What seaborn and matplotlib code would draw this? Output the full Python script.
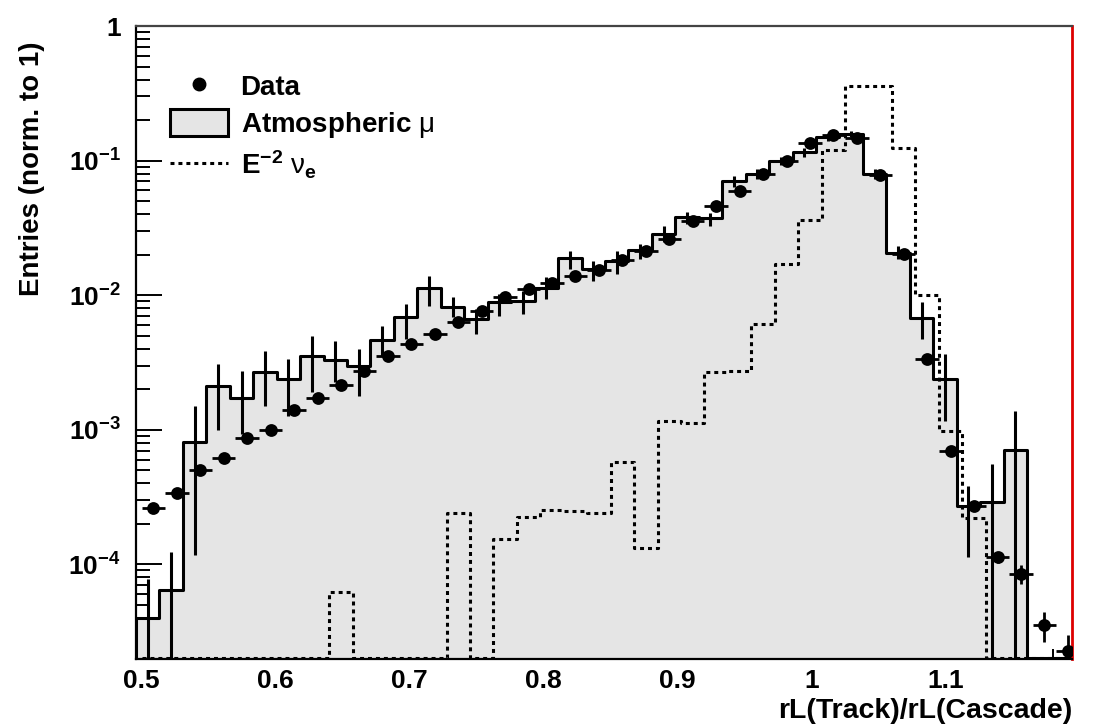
import numpy as np
import pandas as pd
import matplotlib
matplotlib.use("Agg")
import matplotlib.pyplot as plt
import seaborn as sns
from matplotlib.lines import Line2D
from matplotlib.patches import Patch
from matplotlib.ticker import FixedLocator, FixedFormatter, LogLocator, MultipleLocator, NullFormatter

# ---------------- data ----------------
bin_width = 0.0175
data_first_edge = 0.5        # data and E^-2 nu_e histograms
mc_first_edge = 0.49575      # atmospheric mu histogram
n_bins = 40

data_vals = [2.61e-4, 3.39e-4, 5.06e-4, 6.17e-4, 8.7e-4, 1.0e-3, 1.41e-3, 1.72e-3,
             2.16e-3, 2.75e-3, 3.55e-3, 4.33e-3, 5.15e-3, 6.29e-3, 7.67e-3, 9.64e-3,
             1.12e-2, 1.23e-2, 1.38e-2, 1.55e-2, 1.84e-2, 2.14e-2, 2.6e-2, 3.58e-2,
             4.63e-2, 5.97e-2, 7.95e-2, 0.100, 0.135, 0.155, 0.147, 7.8e-2,
             2.02e-2, 3.36e-3, 6.92e-4, 2.70e-4, 1.13e-4, 8.49e-5, 3.56e-5, 2.28e-5]
data_err = [1.5e-5, 1.7e-5, 2.1e-5, 2.3e-5, 2.8e-5, 3.0e-5, 3.6e-5, 4.0e-5,
            4.5e-5, 5.0e-5, 5.7e-5, 6.3e-5, 6.9e-5, 7.6e-5, 8.4e-5, 9.4e-5,
            1.0e-4, 1.1e-4, 1.15e-4, 1.2e-4, 1.35e-4, 1.45e-4, 1.6e-4, 1.9e-4,
            2.1e-4, 2.4e-4, 2.8e-4, 3.1e-4, 3.6e-4, 3.9e-4, 3.8e-4, 2.8e-4,
            1.4e-4, 5.8e-5, 2.6e-5, 1.6e-5, 1.0e-5, 1.35e-5, 0.9e-5, 0.7e-5]

mc_vals = [4.0e-5, 6.4e-5, 8.07e-4, 2.1e-3, 1.72e-3, 2.70e-3, 2.38e-3, 3.52e-3,
           3.30e-3, 3.0e-3, 4.67e-3, 6.85e-3, 1.14e-2, 8.1e-3, 6.65e-3, 8.85e-3,
           9.0e-3, 1.14e-2, 1.88e-2, 1.57e-2, 1.80e-2, 2.17e-2, 2.85e-2, 3.79e-2,
           3.75e-2, 7.1e-2, 7.95e-2, 0.100, 0.115, 0.149, 0.158, 7.95e-2,
           2.06e-2, 6.77e-3, 2.38e-3, 2.73e-4, 2.89e-4, 7.08e-4, 0.0, 0.0]
mc_err_lo = [0.0, 0.0, 1.18e-4, 1.0e-3, 9.3e-4, 1.51e-3, 1.27e-3, 1.90e-3,
             2.25e-3, 1.77e-3, 3.56e-3, 4.73e-3, 8.36e-3, 6.85e-3, 5.15e-3, 7.05e-3,
             7.24e-3, 9.38e-3, 1.57e-2, 1.28e-2, 1.44e-2, 1.86e-2, 2.47e-2, 3.38e-2,
             3.25e-2, 6.37e-2, 7.3e-2, 9.3e-2, 0.107, 0.140, 0.149, 7.3e-2,
             1.86e-2, 4.73e-3, 1.17e-3, 1.13e-4, 0.0, 0.0, 0.0, 0.0]
mc_err_hi = [7.8e-5, 1.23e-4, 1.51e-3, 3.08e-3, 2.75e-3, 3.87e-3, 3.36e-3, 5.0e-3,
             4.59e-3, 3.98e-3, 5.93e-3, 8.61e-3, 1.40e-2, 9.75e-3, 7.89e-3, 1.02e-2,
             1.08e-2, 1.36e-2, 2.14e-2, 1.80e-2, 2.14e-2, 2.40e-2, 3.25e-2, 4.17e-2,
             4.08e-2, 7.73e-2, 8.6e-2, 0.107, 0.123, 0.158, 0.167, 8.6e-2,
             2.33e-2, 8.85e-3, 3.66e-3, 3.85e-4, 5.57e-4, 1.39e-3, 0.0, 0.0]

sig_vals = [0, 0, 0, 0, 0, 0, 0, 0,
            6.27e-5, 0, 0, 0, 0, 2.41e-4, 0, 1.53e-4,
            2.26e-4, 2.55e-4, 2.49e-4, 2.41e-4, 5.74e-4, 1.32e-4, 1.17e-3, 1.12e-3,
            2.70e-3, 2.75e-3, 6.11e-3, 1.71e-2, 3.64e-2, 0.120, 0.356, 0.356,
            0.123, 1.01e-2, 9.85e-4, 2.21e-4, 0, 0, 0, 0]

x_range = (0.49575, 1.1943)
y_range = (1.98e-5, 1.0)
x_ticks = [0.5, 0.6, 0.7, 0.8, 0.9, 1.0, 1.1]
x_tick_labels = ["0.5", "0.6", "0.7", "0.8", "0.9", "1", "1.1"]
y_ticks = [1e-4, 1e-3, 1e-2, 1e-1, 1.0]
y_tick_labels = [r"$\mathbf{10^{-4}}$", r"$\mathbf{10^{-3}}$", r"$\mathbf{10^{-2}}$",
                 r"$\mathbf{10^{-1}}$", "1"]
legend_labels = ["Data", r"Atmospheric $\mu$", r"$\mathbf{E^{-2}}\ \nu_{\mathbf{e}}$"]
x_label = "rL(Track)/rL(Cascade)"
y_label = "Entries (norm. to 1)"

# ---------------- derived tables ----------------
data_edges = data_first_edge + bin_width * np.arange(n_bins + 1)
mc_edges = mc_first_edge + bin_width * np.arange(n_bins + 1)
data_x = 0.5 * (data_edges[:-1] + data_edges[1:])
mc_x = 0.5 * (mc_edges[:-1] + mc_edges[1:])
floor = y_range[0] * 1.02

df_data = pd.DataFrame({"x": data_x, "y": data_vals, "err": data_err})
df_mc = pd.DataFrame({"x": mc_x, "w": np.maximum(mc_vals, floor),
                      "lo": np.maximum(mc_err_lo, floor), "hi": np.maximum(mc_err_hi, floor)})
df_sig = pd.DataFrame({"x": data_x, "w": np.maximum(sig_vals, floor)})

# ---------------- style ----------------
sns.set_theme(style="white")
plt.rcParams["font.family"] = ["Liberation Sans", "DejaVu Sans"]
plt.rcParams["font.weight"] = "bold"
plt.rcParams["text.color"] = "black"
plt.rcParams["axes.labelcolor"] = "black"
plt.rcParams["xtick.color"] = "black"
plt.rcParams["ytick.color"] = "black"
plt.rcParams["mathtext.fontset"] = "custom"
plt.rcParams["mathtext.rm"] = "Liberation Sans:bold"
plt.rcParams["mathtext.bf"] = "Liberation Sans:bold"
plt.rcParams["mathtext.it"] = "Liberation Sans:weight=normal"

fill_col = "#e5e5e5"
lw = 2.2

fig = plt.figure(figsize=(10.94, 7.27), dpi=100)
ax = fig.add_axes([136 / 1094, 1 - 659 / 727, (1072 - 136) / 1094, (659 - 26) / 727])

# atmospheric mu: filled step histogram
sns.histplot(data=df_mc, x="x", weights="w", bins=list(mc_edges), element="step", fill=True,
             color=fill_col, facecolor=fill_col, edgecolor="black", linewidth=lw,
             alpha=1.0, ax=ax, zorder=1)
# E^-2 nu_e: dotted step histogram
sns.histplot(data=df_sig, x="x", weights="w", bins=list(data_edges), element="step", fill=False,
             color="black", linestyle=(0, (1.3, 1.3)), linewidth=lw, ax=ax, zorder=2.6)
# MC error bars
ax.vlines(df_mc["x"], df_mc["lo"], df_mc["hi"], colors="black", linewidth=lw, zorder=3)
# data with errors
ax.errorbar(df_data["x"], df_data["y"], xerr=bin_width / 2, yerr=df_data["err"], fmt="none",
            ecolor="black", elinewidth=2.0, capsize=0, zorder=4)
sns.scatterplot(data=df_data, x="x", y="y", color="black", edgecolor="black", s=85,
                marker="o", linewidth=0, ax=ax, zorder=5, legend=False)

ax.set_yscale("log")
ax.set_xlim(*x_range)
ax.set_ylim(*y_range)

ax.xaxis.set_major_locator(FixedLocator(x_ticks))
ax.xaxis.set_major_formatter(FixedFormatter(x_tick_labels))
ax.xaxis.set_minor_locator(MultipleLocator(0.02))
ax.yaxis.set_major_locator(FixedLocator(y_ticks))
ax.yaxis.set_major_formatter(FixedFormatter(y_tick_labels))
ax.yaxis.set_minor_locator(LogLocator(base=10, subs=np.arange(2, 10), numticks=20))
ax.yaxis.set_minor_formatter(NullFormatter())

ax.tick_params(axis="x", which="major", direction="in", length=14, width=1.4, pad=7,
               labelsize=19, bottom=True, top=False, colors="black")
ax.tick_params(axis="x", which="minor", direction="in", length=7, width=1.4, bottom=True,
               top=False, colors="black")
ax.tick_params(axis="y", which="major", direction="in", length=19, width=1.4, pad=11,
               labelsize=19, left=True, right=False, colors="black")
ax.tick_params(axis="y", which="minor", direction="in", length=10, width=1.4, left=True,
               right=False, colors="black")
for lab in ax.get_xticklabels() + ax.get_yticklabels():
    lab.set_fontweight("bold")
    lab.set_color("black")

for side in ["left", "bottom"]:
    ax.spines[side].set_color("black")
    ax.spines[side].set_linewidth(1.6)
ax.spines["top"].set_color("#444444")
ax.spines["top"].set_linewidth(1.6)
ax.spines["right"].set_color("#dd0000")
ax.spines["right"].set_linewidth(2.0)

ax.set_xlabel(x_label, fontsize=20.5, fontweight="bold", loc="right", color="black")
ax.set_ylabel(y_label, fontsize=20, fontweight="bold", loc="top", color="black")
ax.xaxis.set_label_coords(1.0, -0.062)
ax.yaxis.set_label_coords(-0.097, 0.975)

handles = [Line2D([], [], marker="o", color="black", linestyle="none", markersize=9),
           Patch(facecolor=fill_col, edgecolor="black", linewidth=lw),
           Line2D([], [], color="black", linestyle=(0, (1.3, 1.3)), linewidth=lw)]
leg = ax.legend(handles, legend_labels, loc="upper left", bbox_to_anchor=(0.036, 0.927),
                frameon=False, fontsize=20, handlelength=2.1, handleheight=1.1,
                handletextpad=0.45, labelspacing=0.3, borderaxespad=0, borderpad=0)
for t in leg.get_texts():
    t.set_fontweight("bold")
    t.set_color("black")

fig.savefig("out.png", dpi=100, facecolor="white")
